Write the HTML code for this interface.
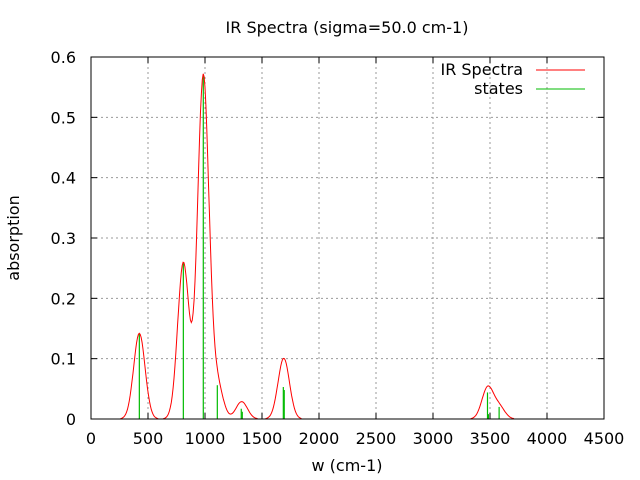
<!DOCTYPE html>
<html><head><meta charset="utf-8"><style>
body{margin:0;background:#fff}
svg{display:block;font-family:"DejaVu Sans","Liberation Sans",sans-serif}
</style></head><body>
<svg id="chart" width="640" height="480" viewBox="0 0 640 480">
<g id="grid"></g>
<g id="sticks"></g>
<g id="curve"></g>
<rect x="91" y="57" width="513" height="362" fill="none" stroke="#000" stroke-width="1"/>
<g id="ticks"></g>
<text x="347" y="33" font-size="16" text-anchor="middle">IR Spectra (sigma=50.0 cm-1)</text>
<text x="347" y="471" font-size="16" text-anchor="middle">w (cm-1)</text>
<text transform="translate(19,238) rotate(-90)" font-size="16" text-anchor="middle">absorption</text>
<g>
<text x="523" y="75" font-size="16" text-anchor="end">IR Spectra</text>
<line x1="536" y1="70" x2="585" y2="70" stroke="#f00"/>
<text x="523" y="94" font-size="16" text-anchor="end">states</text>
<line x1="536" y1="89" x2="585" y2="89" stroke="#0b0"/>
</g>
</svg>
<script>
const stateFreqs=[424,810,985,1108,1318,1327,1687,1695,3478,3486,3580];
const stateInts=[0.142,0.259,0.569,0.056,0.017,0.012,0.053,0.048,0.044,0.008,0.02];
const xTicks=[0,500,1000,1500,2000,2500,3000,3500,4000,4500];
const yTicks=[0,0.1,0.2,0.3,0.4,0.5,0.6];
const yTickLabels=["0","0.1","0.2","0.3","0.4","0.5","0.6"];
const sigma=50;
const NS="http://www.w3.org/2000/svg";
const X0=91,X1=604,Y0=419,Y1=57;
const sx=v=>X0+(v-0)/(4500-0)*(X1-X0);
const sy=v=>Y0-(v-0)/(0.6-0)*(Y0-Y1);
function mk(tag,attrs,parent){const e=document.createElementNS(NS,tag);for(const k in attrs)e.setAttribute(k,attrs[k]);parent.appendChild(e);return e;}
const grid=document.getElementById('grid'),ticks=document.getElementById('ticks');
xTicks.forEach((t,i)=>{
  const x=sx(t);
  if(i>0&&i<xTicks.length-1){const g=mk('line',{x1:x,y1:Y0,x2:x,y2:Y1,stroke:'#999','stroke-dasharray':'2,3'},grid);
  
  }
  mk('line',{x1:x,y1:Y0,x2:x,y2:Y0-6,stroke:'#000'},ticks);
  mk('line',{x1:x,y1:Y1,x2:x,y2:Y1+6,stroke:'#000'},ticks);
  const l=mk('text',{x:x,y:444,'font-size':16,'text-anchor':'middle'},ticks);l.textContent=t;
  
  
});
yTicks.forEach((t,i)=>{
  const y=sy(t);
  if(i>0&&i<yTicks.length-1){const g=mk('line',{x1:X0,y1:y,x2:X1,y2:y,stroke:'#999','stroke-dasharray':'2,3'},grid);
  
  }
  mk('line',{x1:X0,y1:y,x2:X0+6,y2:y,stroke:'#000'},ticks);
  mk('line',{x1:X1,y1:y,x2:X1-6,y2:y,stroke:'#000'},ticks);
  const l=mk('text',{x:76,y:y+6,'font-size':16,'text-anchor':'end'},ticks);l.textContent=yTickLabels[i];
  
  
});
const sticks=document.getElementById('sticks');
stateFreqs.forEach((f,i)=>{
  const s=mk('line',{x1:sx(f),y1:Y0,x2:sx(f),y2:sy(stateInts[i]),stroke:'#0b0','stroke-width':1.2},sticks);
  
  
});
const curve=document.getElementById('curve');
function spec(w){let s=0;stateFreqs.forEach((f,i)=>{s+=stateInts[i]*Math.exp(-(w-f)*(w-f)/(2*sigma*sigma));});return s;}
let segs=[],cur=[];
for(let w=0;w<=4500;w+=8){const v=spec(w);
  if(v>0.0008){cur.push(sx(w).toFixed(1)+','+sy(v).toFixed(1));}
  else if(cur.length){cur.push(sx(w).toFixed(1)+','+sy(0).toFixed(1));segs.push(cur);cur=[];}
  else {cur=[];}
  if(v>0.0008&&cur.length===1){cur.unshift(sx(w-8).toFixed(1)+','+sy(0).toFixed(1));}
}
if(cur.length)segs.push(cur);
segs.forEach(p=>{
  const pl=mk('polyline',{points:p.join(' '),fill:'none',stroke:'#f00','stroke-width':1},curve);
  
  
});
</script>
</body></html>
